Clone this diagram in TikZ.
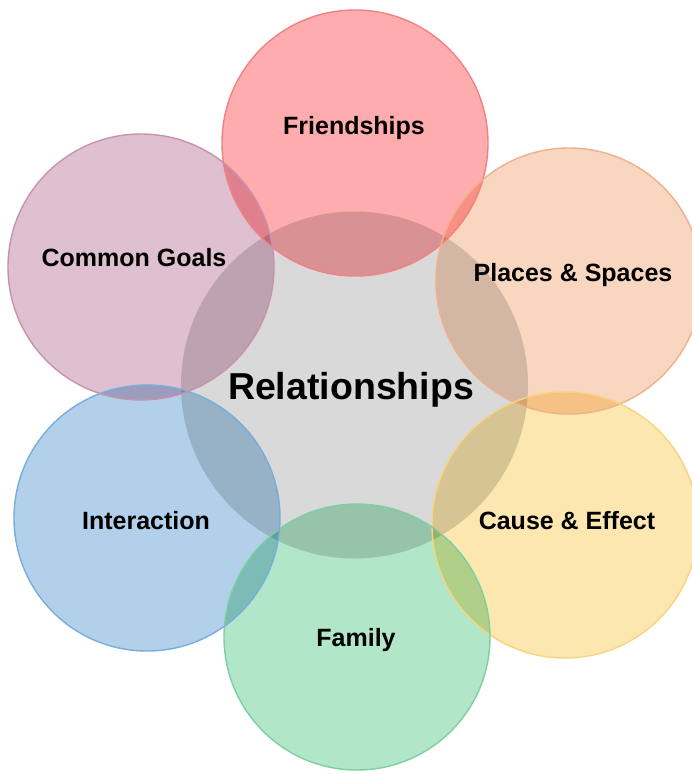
\documentclass[tikz,border=0pt]{standalone}
\usepackage{fontspec}
\setmainfont{Liberation Sans}
\definecolor{ctrfill}{HTML}{D9D9D9}
\definecolor{frfill}{HTML}{FFACAE}\definecolor{frline}{HTML}{F08282}
\definecolor{plfill}{HTML}{F8D6C0}\definecolor{plline}{HTML}{F0B08A}
\definecolor{cafill}{HTML}{FDE7B0}\definecolor{caline}{HTML}{F8D47E}
\definecolor{fafill}{HTML}{B2E6C8}\definecolor{faline}{HTML}{7CD0A0}
\definecolor{infill}{HTML}{B2D0E9}\definecolor{inline}{HTML}{76AEDC}
\definecolor{cgfill}{HTML}{DFC0D0}\definecolor{cgline}{HTML}{C892AC}
\tikzset{
  bubble/.style={circle, minimum size=266pt, inner sep=0pt, draw=none, blend mode=multiply},
  rim/.style={line width=1.4pt},
  lbl/.style={font=\fontsize{25}{29}\selectfont\bfseries, text=black, inner sep=0pt},
  hub/.style={circle, minimum size=347pt, inner sep=0pt, fill=ctrfill, draw=none, blend mode=multiply},
  hublabel/.style={font=\fontsize{37.5}{42}\selectfont\bfseries, text=black, inner sep=0pt}
}
\begin{document}
\begin{tikzpicture}[x=1pt,y=1pt]
\fill[white] (0,0) rectangle (692,-774);
\useasboundingbox (0,0) rectangle (692,-774);
\node[hub] (ctr) at (354.5,-385) {};
\node[bubble, fill=frfill] (fr) at (355,-143) {};
\node[bubble, fill=plfill] (pl) at (569,-281) {};
\node[bubble, fill=cafill] (ca) at (565,-525) {};
\node[bubble, fill=fafill] (fa) at (357,-637) {};
\node[bubble, fill=infill] (in) at (147,-518) {};
\node[bubble, fill=cgfill] (cg) at (141,-267) {};
\draw[rim, frline] (fr.center) circle[radius=133pt];
\draw[rim, plline] (pl.center) circle[radius=133pt];
\draw[rim, caline] (ca.center) circle[radius=133pt];
\draw[rim, faline] (fa.center) circle[radius=133pt];
\draw[rim, inline] (in.center) circle[radius=133pt];
\draw[rim, cgline] (cg.center) circle[radius=133pt];
\node[hublabel] (ctrl) at (351,-390) {Relationships};
\node[lbl] (frl) at (354,-128) {Friendships};
\node[lbl] (pll) at (573,-275) {Places \& Spaces};
\node[lbl] (cal) at (567,-521) {Cause \& Effect};
\node[lbl] (fal) at (356,-640) {Family};
\node[lbl] (inl) at (146,-521) {Interaction};
\node[lbl] (cgl) at (134,-258) {Common Goals};
\end{tikzpicture}
\end{document}
